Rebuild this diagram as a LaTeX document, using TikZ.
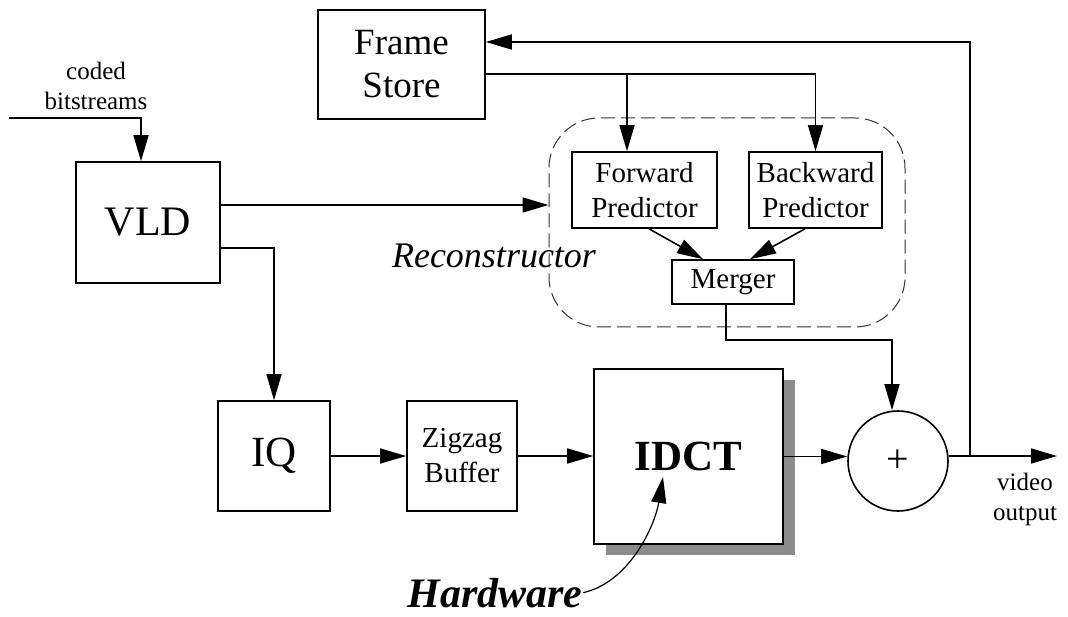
\documentclass[tikz,border=0pt]{standalone}
\usepackage{fontspec}
\setmainfont{Liberation Serif}
\usetikzlibrary{arrows.meta,shadows}
\definecolor{shadowgray}{RGB}{140,140,140}
\begin{document}
\begin{tikzpicture}[x=1pt,y=-1pt,
  line width=1.6pt,
  arr/.style={-{Triangle[length=26pt,width=15pt]}},
  blk/.style={draw, rectangle, inner sep=0pt, align=center, fill=white},
  bigtxt/.style={font=\fontsize{42}{48}\selectfont},
  midtxt/.style={font=\fontsize{37}{43}\selectfont},
  smalltxt/.style={font=\fontsize{29}{35}\selectfont},
  labeltxt/.style={font=\fontsize{25}{30}\selectfont, align=center, inner sep=0pt},
]
\useasboundingbox (0,0) rectangle (1068,617);

% reconstructor group outline
\node (recon) [draw=black!80, line width=1pt, dash pattern=on 14pt off 6pt,
  rounded corners=50pt, minimum width=356pt, minimum height=209pt, inner sep=0pt]
  at (727,222.5) {};

% processing blocks
\node (fs)  [blk, midtxt, minimum width=167pt, minimum height=109pt] at (401.5,64.5) {Frame\\Store};
\node (vld) [blk, bigtxt, minimum width=144pt, minimum height=121pt] at (148,222.5) {VLD};
\node (fwd) [blk, smalltxt, minimum width=145pt, minimum height=76pt] at (644.5,190) {Forward\\Predictor};
\node (bwd) [blk, smalltxt, minimum width=133pt, minimum height=76pt] at (815.5,190) {Backward\\Predictor};
\node (mrg) [blk, smalltxt, minimum width=122pt, minimum height=44pt] at (733,282) {Merger};
\node (iq)  [blk, font=\fontsize{43}{50}\selectfont, minimum width=112pt, minimum height=110pt] at (274,456) {IQ};
\node (zz)  [blk, smalltxt, minimum width=110pt, minimum height=110pt] at (462,456) {Zigzag\\Buffer};
\node (idct) [blk, font=\bfseries\fontsize{43}{50}\selectfont, minimum width=189pt, minimum height=175pt,
  drop shadow={shadow xshift=12pt, shadow yshift=-11pt, fill=shadowgray, opacity=1}]
  at (688.5,456.5) {IDCT};
\node (sum) [draw, circle, minimum size=100pt, inner sep=0pt] at (898,461) {};
\node (plus) at (sum.center) [font=\fontsize{40}{40}\selectfont, inner sep=0pt] {+};

% labels
\node (coded) [labeltxt] at (96,86) {coded\\bitstreams};
\node (video) [labeltxt] at (1025,499) {video\\output};
\node (rlabel) [font=\itshape\fontsize{36}{40}\selectfont, inner sep=0pt, anchor=base] at (494,268) {Reconstructor};
\node (hw) [font=\bfseries\itshape\fontsize{42}{48}\selectfont, inner sep=0pt, anchor=base] at (495,607) {Hardware};

% free ends and branch points
\coordinate (in) at (9,118);
\coordinate (out) at (1057,456);
\coordinate (tap) at (970,456);
\coordinate (fsout) at ([yshift=-9.5pt]fs.east);
\coordinate (hwtip) at ([xshift=-25.5pt,yshift=-20.5pt]idct.center);

% connectors
\draw[arr] (in) -| ([xshift=-7pt]vld.north);
\draw[arr] ([yshift=17.5pt]vld.east) -- ([yshift=17.5pt]recon.west);
\draw[arr] ([yshift=-25.5pt]vld.east) -| (iq.north);
\draw[arr] (iq.east) -- (zz.west);
\draw[arr] (zz.east) -- (idct.west |- zz.east);
\draw[arr] (idct.east) -- (idct.east -| sum.west);
\draw[arr] (sum.east |- out) -- (out);
\draw[arr] (tap) |- ([yshift=22.5pt]fs.east);
\draw[arr] (fsout) -| (bwd.north);
\draw[arr] ([xshift=-17.5pt]fwd.north |- fsout) -- ([xshift=-17.5pt]fwd.north);
\draw[arr] ([xshift=4.5pt]fwd.south) -- ([xshift=-30pt]mrg.north);
\draw[arr] ([xshift=-10.5pt]bwd.south) -- ([xshift=17pt]mrg.north);
\draw[arr] ([xshift=-7pt]mrg.south) -- ++(0,35) -| ([xshift=-6pt]sum.north);
\draw[arr, line width=1.2pt] (hw.east) .. controls (630,582) and (655,525) .. (hwtip);
\end{tikzpicture}
\end{document}
